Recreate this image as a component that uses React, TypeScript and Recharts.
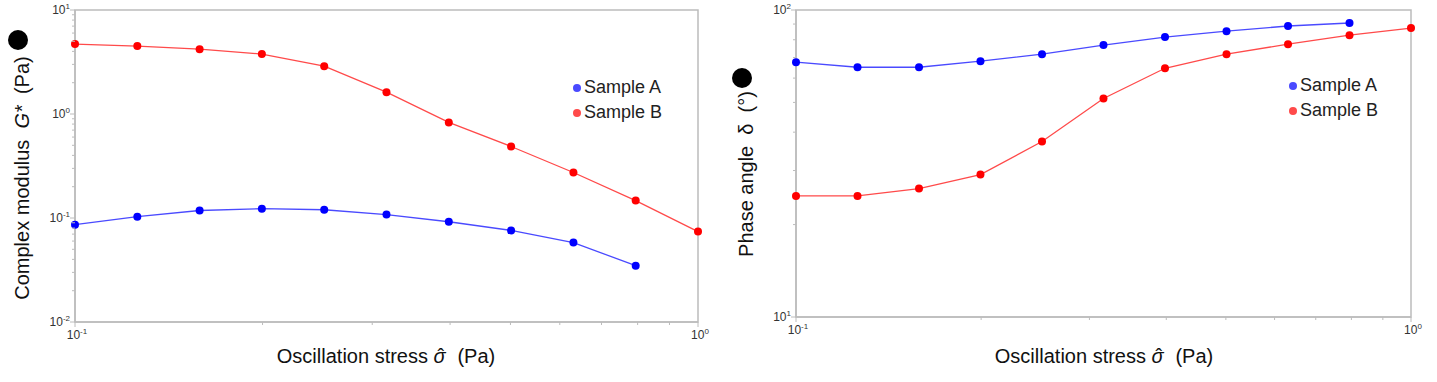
import React from "react";
import {
  LineChart,
  Line,
  XAxis,
  YAxis,
  Legend,
  ReferenceArea,
} from "recharts";

// oscillation stress steps (Pa), 10 points per decade
const STRESS = [0.1, 0.1259, 0.1585, 0.1995, 0.2512, 0.3162, 0.3981, 0.5012, 0.631, 0.7943, 1.0];

// complex modulus G* (Pa)
const MODULUS_A = [0.0863, 0.103, 0.118, 0.123, 0.12, 0.108, 0.092, 0.076, 0.058, 0.0348];
const MODULUS_B = [4.7, 4.5, 4.2, 3.77, 2.88, 1.62, 0.83, 0.487, 0.274, 0.147, 0.074];

// phase angle delta (deg)
const PHASE_A = [67.6, 65.1, 65.1, 68.1, 71.8, 76.9, 81.6, 85.3, 88.7, 90.7];
const PHASE_B = [24.8, 24.8, 26.2, 29.1, 37.3, 51.5, 64.6, 71.8, 77.4, 82.8, 87.3];

const MINOR = [1, 2, 3, 4, 5, 6, 7, 8, 9];
const X_DECADES = [0.1];
const MODULUS_DECADES = [0.01, 0.1, 1];
const PHASE_DECADES = [10];

const FONT = "'Liberation Sans', Arial, sans-serif";
const AXIS = "#bcbcbc";
const BLUE = "#0000ff";
const RED = "#ff0000";

function logTicks(decades: number[], top: number): number[] {
  const out: number[] = [];
  decades.forEach((d) => MINOR.forEach((m) => out.push(+(d * m).toPrecision(3))));
  out.push(top);
  return out;
}

const toPoints = (ys: number[]) => ys.map((v, i) => ({ s: STRESS[i], v }));

function LogTick(props: any) {
  const { x, y, payload, side } = props;
  const e = Math.log10(payload.value);
  const exp = Math.round(e);
  const major = Math.abs(e - exp) < 1e-6;
  const len = major ? 5 : 3;
  if (side === "left") {
    return (
      <g>
        <line x1={x - len} y1={y} x2={x} y2={y} stroke={AXIS} strokeWidth={1} />
        {major && (
          <text x={x - 5} y={y + 4} textAnchor="end" fontFamily={FONT} fontSize={12} fill="#333">
            <tspan>10</tspan>
            <tspan dy={-5} fontSize={8}>{exp}</tspan>
          </text>
        )}
      </g>
    );
  }
  return (
    <g>
      <line x1={x} y1={y} x2={x} y2={y + len} stroke={AXIS} strokeWidth={1} />
      {major && (
        <text x={x + 2} y={y + 17} textAnchor="middle" fontFamily={FONT} fontSize={12} fill="#333">
          <tspan>10</tspan>
          <tspan dy={-5} fontSize={8}>{exp}</tspan>
        </text>
      )}
    </g>
  );
}

function LegendBox(props: any) {
  const items = props.payload || [];
  return (
    <div style={{ fontFamily: FONT, fontSize: 18, color: "#222", lineHeight: "25px" }}>
      {items.map((it: any) => (
        <div key={it.value} style={{ display: "flex", alignItems: "center" }}>
          <span
            style={{
              width: 8,
              height: 8,
              borderRadius: 4,
              background: it.color,
              display: "inline-block",
              marginRight: 3,
            }}
          />
          {it.value}
        </div>
      ))}
    </div>
  );
}

interface PanelProps {
  width: number;
  yWidth: number;
  margin: { top: number; right: number; bottom: number; left: number };
  yDomain: [number, number];
  yTicks: number[];
  a: number[];
  b: number[];
  legendPos: { left: number; top: number };
  xTitle: { x: number; y: number };
  yTitle: React.ReactNode;
}

function Panel(p: PanelProps) {
  return (
    <LineChart width={p.width} height={382} margin={p.margin}>
      <ReferenceArea
        x1={0.1}
        x2={1}
        y1={p.yDomain[0]}
        y2={p.yDomain[1]}
        fill="none"
        stroke={AXIS}
        strokeWidth={1.5}
        ifOverflow="visible"
      />
      <XAxis
        dataKey="s"
        type="number"
        scale="log"
        domain={[0.1, 1]}
        ticks={logTicks(X_DECADES, 1)}
        interval={0}
        tickSize={0}
        tickMargin={0}
        height={30}
        axisLine={{ stroke: AXIS, strokeWidth: 1.5 }}
        tick={(t: any) => <LogTick {...t} side="bottom" />}
        label={() => (
          <text
            x={p.xTitle.x}
            y={p.xTitle.y}
            textAnchor="middle"
            fontFamily={FONT}
            fontSize={20}
            fill="#111"
          >
            Oscillation stress <tspan fontStyle="italic">σ</tspan>
            <tspan dx={-8}>ˆ</tspan>
            <tspan dx={2}>{"\u00a0\u00a0"}(Pa)</tspan>
          </text>
        )}
      />
      <YAxis
        dataKey="v"
        type="number"
        scale="log"
        domain={p.yDomain}
        ticks={p.yTicks}
        interval={0}
        tickSize={0}
        tickMargin={0}
        width={p.yWidth}
        axisLine={{ stroke: AXIS, strokeWidth: 1.5 }}
        tick={(t: any) => <LogTick {...t} side="left" />}
        label={() => p.yTitle}
      />
      <Legend
        layout="vertical"
        align="center"
        verticalAlign="middle"
        content={<LegendBox />}
        wrapperStyle={{ position: "absolute", left: p.legendPos.left, top: p.legendPos.top, width: 130 }}
      />
      <Line
        data={toPoints(p.a)}
        dataKey="v"
        name="Sample A"
        stroke="#4a4aff"
        strokeWidth={1.3}
        dot={{ r: 4, fill: BLUE, stroke: BLUE, strokeWidth: 0 }}
        isAnimationActive={false}
      />
      <Line
        data={toPoints(p.b)}
        dataKey="v"
        name="Sample B"
        stroke="#ff4a4a"
        strokeWidth={1.3}
        dot={{ r: 4, fill: RED, stroke: RED, strokeWidth: 0 }}
        isAnimationActive={false}
      />
    </LineChart>
  );
}

function YTitle(props: { x: number; y: number; dotY: number; children: React.ReactNode }) {
  return (
    <g>
      <text
        x={props.x}
        y={props.y}
        transform={`rotate(-90 ${props.x} ${props.y})`}
        textAnchor="middle"
        dominantBaseline="central"
        fontFamily={FONT}
        fontSize={20}
        fill="#111"
      >
        {props.children}
      </text>
      <circle cx={props.x - 4} cy={props.dotY} r={10} fill="#000" />
    </g>
  );
}

export default function App() {
  return (
    <div
      style={{
        position: "absolute",
        left: 0,
        top: 0,
        width: 1437,
        height: 382,
        background: "#fff",
        display: "flex",
      }}
    >
      <Panel
        width={720}
        yWidth={75}
        margin={{ top: 10, right: 22, bottom: 30, left: 0 }}
        yDomain={[0.01, 10]}
        yTicks={logTicks(MODULUS_DECADES, 10)}
        a={MODULUS_A}
        b={MODULUS_B}
        legendPos={{ left: 573, top: 75 }}
        xTitle={{ x: 386, y: 363 }}
        yTitle={
          <YTitle x={22} y={178} dotY={40}>
            Complex modulus{"\u00a0\u00a0"}<tspan fontStyle="italic">G*</tspan>{"\u00a0\u00a0"}(Pa)
          </YTitle>
        }
      />
      <Panel
        width={717}
        yWidth={76}
        margin={{ top: 10, right: 26, bottom: 35, left: 0 }}
        yDomain={[10, 100]}
        yTicks={logTicks(PHASE_DECADES, 100)}
        a={PHASE_A}
        b={PHASE_B}
        legendPos={{ left: 569, top: 73 }}
        xTitle={{ x: 384, y: 363 }}
        yTitle={
          <YTitle x={26} y={174} dotY={78}>
            Phase angle{"\u00a0\u00a0"}δ{"\u00a0\u00a0"}(°)
          </YTitle>
        }
      />
    </div>
  );
}
